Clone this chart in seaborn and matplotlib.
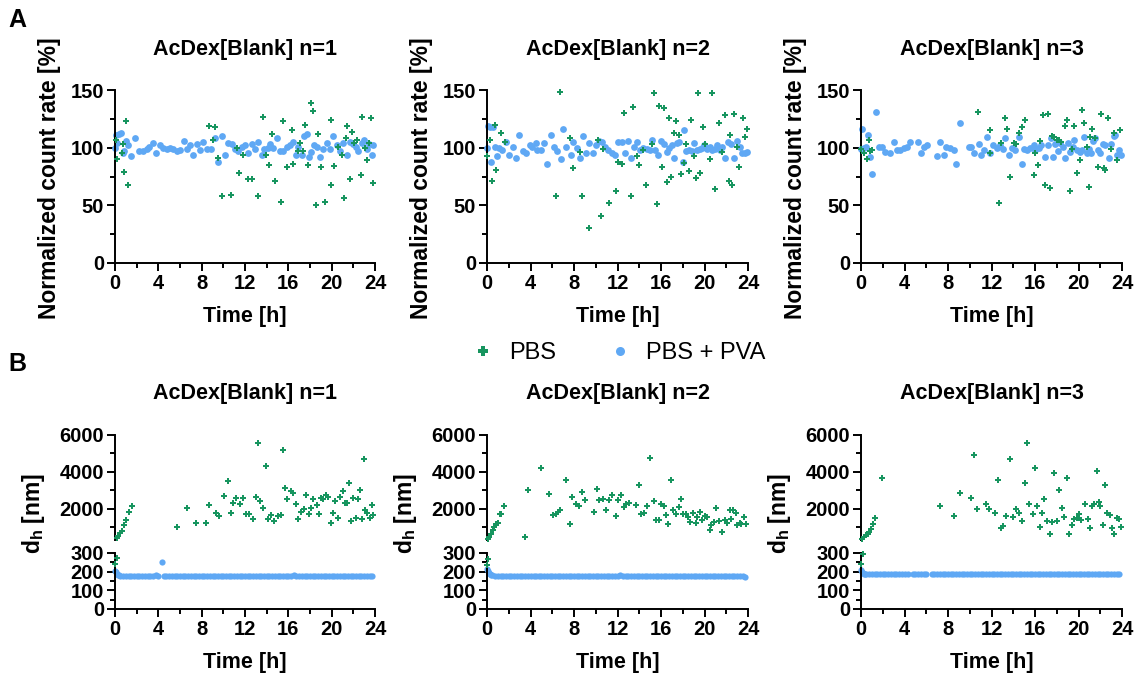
import numpy as np
import matplotlib
matplotlib.use("Agg")
import matplotlib.pyplot as plt
import seaborn as sns
from matplotlib.ticker import FixedLocator
from matplotlib.lines import Line2D

sns.set_theme(style="ticks")
plt.rcParams['font.family'] = ['Liberation Sans', 'DejaVu Sans']
plt.rcParams['font.weight'] = 'bold'
plt.rcParams['axes.labelweight'] = 'bold'
plt.rcParams['text.color'] = 'black'
plt.rcParams['axes.labelcolor'] = 'black'
plt.rcParams['xtick.color'] = 'black'
plt.rcParams['ytick.color'] = 'black'
plt.rcParams['mathtext.fontset'] = 'custom'
plt.rcParams['mathtext.rm'] = 'Liberation Sans:bold'
plt.rcParams['mathtext.bf'] = 'Liberation Sans:bold'

GREEN = '#17955f'
BLUE = '#5fa8f4'

TITLES = ['AcDex[Blank] n=1', 'AcDex[Blank] n=2', 'AcDex[Blank] n=3']
LEGEND_LABELS = ['PBS', 'PBS + PVA']
TIME_TICKS = [0, 4, 8, 12, 16, 20, 24]

# ---- Panel A: normalized count rate [%] ----
A1_PBS_T = [0.06, 0.15, 0.62, 0.71, 0.83, 1.02, 1.23, 8.71, 9.02, 9.23, 9.54, 9.85,
            10.71, 11.23, 11.48, 11.85, 12.31, 12.62, 13.17, 13.69, 13.94, 14.25, 14.46,
            14.8, 15.35, 15.54, 15.85, 16.31, 16.46, 16.86, 17.08, 17.32, 17.54, 17.85,
            18.09, 18.31, 18.52, 18.77, 18.98, 19.38, 19.94, 19.9, 20.25, 20.62, 20.92,
            21.14, 21.32, 21.45, 21.69, 21.85, 22.09, 22.37, 22.68, 22.83, 23.08, 23.29,
            23.48, 23.6, 23.78]
A1_PBS_V = [107, 90, 95, 103, 79, 123, 68, 119, 107, 118, 91, 58,
            59, 100, 78, 94, 73, 73, 58, 127, 94, 85, 112,
            71, 53, 123, 83, 115, 86, 97, 104, 97, 120, 85,
            139, 132, 50, 112, 83, 53, 124, 68, 84, 101, 94,
            56, 108, 119, 73, 114, 104, 107, 76, 127, 100, 89,
            104, 126, 69]
A1_PVA_T = [0.0, 0.1, 0.15, 0.37, 0.52, 0.71, 0.86, 1.02, 1.23, 1.48,
            1.85, 2.25, 2.62, 2.92, 3.17, 3.48, 3.78, 4.15, 4.46, 4.77,
            5.08, 5.38, 5.69, 6.0, 6.37, 6.62, 6.92, 7.23, 7.54, 7.85,
            8.15, 8.46, 8.83, 9.23, 9.54, 9.85, 10.15, 10.46, 10.77, 11.08,
            11.38, 11.69, 12.0, 12.31, 12.62, 12.92, 13.23, 13.54, 13.78, 14.09,
            14.31, 14.62, 14.92, 15.23, 15.54, 15.85, 16.15, 16.46, 16.71, 16.92,
            17.23, 17.48, 17.69, 17.94, 18.09, 18.4, 18.62, 18.92, 19.23, 19.54,
            19.85, 20.15, 20.46, 20.77, 21.08, 21.38, 21.69, 21.94, 22.25, 22.46,
            22.77, 22.98, 23.23, 23.48, 23.69, 23.85]
A1_PVA_V = [100, 111, 104, 112, 113, 95, 97, 106, 102, 93,
            108, 97, 97, 99, 101, 104, 95, 102, 100, 99,
            100, 99, 97, 98, 106, 99, 102, 94, 103, 98,
            105, 99, 99, 108, 88, 110, 94, 104, 103, 99,
            97, 101, 102, 95, 103, 99, 105, 94, 99, 100,
            103, 100, 108, 97, 97, 101, 102, 105, 94, 101,
            94, 110, 112, 92, 96, 102, 101, 92, 99, 104,
            99, 110, 102, 97, 104, 94, 105, 103, 101, 97,
            104, 107, 99, 103, 94, 102]

A2_PBS_T = [0.0, 0.31, 0.49, 0.71, 0.86, 1.32, 1.63, 6.39, 6.73, 7.62,
            7.87, 8.54, 8.73, 9.37, 10.17, 10.48, 10.69, 11.25, 11.86, 12.08,
            12.38, 12.63, 13.21, 13.46, 13.83, 14.01, 14.32, 14.63, 15.15, 15.37,
            15.61, 15.83, 16.07, 16.29, 16.53, 16.69, 16.93, 17.15, 17.39, 17.61,
            17.85, 18.07, 18.32, 18.53, 18.78, 18.99, 19.24, 19.39, 19.61, 19.85,
            20.07, 20.53, 20.68, 20.99, 21.3, 21.6, 21.91, 22.22, 22.37, 22.53,
            22.74, 22.99, 23.17, 23.51, 23.76, 23.91]
A2_PBS_V = [93, 107, 71, 120, 81, 113, 105, 58, 148, 108,
            82, 96, 58, 30, 107, 41, 99, 52, 62, 88,
            86, 130, 58, 135, 93, 85, 98, 68, 103, 147,
            51, 136, 83, 134, 70, 126, 75, 113, 123, 111,
            77, 87, 103, 80, 124, 93, 74, 147, 78, 118,
            103, 90, 147, 64, 121, 96, 128, 71, 111, 68,
            129, 101, 83, 126, 109, 116]
A2_PVA_T = [0.0, 0.09, 0.31, 0.4, 0.55, 0.77, 0.92, 1.11, 1.35, 1.72,
            2.03, 2.4, 2.7, 2.95, 3.32, 3.63, 3.93, 4.18, 4.46, 4.64,
            4.92, 5.26, 5.53, 5.84, 6.15, 6.45, 6.76, 7.01, 7.31, 7.68,
            7.93, 8.24, 8.54, 8.79, 9.1, 9.4, 9.71, 10.02, 10.26, 10.54,
            10.85, 11.16, 11.46, 11.77, 12.08, 12.38, 12.69, 13.0, 13.25, 13.55,
            13.83, 14.08, 14.38, 14.69, 15.0, 15.18, 15.46, 15.77, 16.01, 16.29,
            16.53, 16.78, 16.99, 17.21, 17.45, 17.7, 18.01, 18.13, 18.32, 18.53,
            18.84, 19.05, 19.3, 19.55, 19.76, 19.98, 20.22, 20.47, 20.68, 20.93,
            21.14, 21.39, 21.6, 21.91, 22.16, 22.46, 22.68, 22.99, 23.23, 23.45,
            23.69, 23.91]
A2_PVA_V = [100, 119, 118, 88, 118, 101, 93, 100, 98, 105,
            94, 101, 91, 111, 97, 95, 102, 101, 104, 98,
            98, 104, 86, 111, 101, 97, 90, 116, 101, 94,
            105, 100, 91, 110, 95, 104, 95, 102, 106, 105,
            101, 98, 95, 94, 105, 105, 95, 106, 91, 101,
            105, 98, 100, 99, 98, 107, 98, 94, 106, 103,
            96, 100, 102, 91, 104, 105, 88, 115, 97, 98,
            97, 104, 98, 99, 100, 102, 99, 101, 98, 99,
            102, 98, 101, 91, 105, 103, 91, 106, 101, 95,
            95, 96]

A3_PBS_T = [0.0, 0.25, 0.55, 0.71, 0.86, 1.01, 10.74, 11.84, 11.9, 12.67,
            12.91, 13.22, 13.44, 13.74, 14.05, 14.29, 14.51, 14.82, 15.12, 15.89,
            16.04, 16.26, 16.5, 16.69, 16.96, 17.18, 17.36, 17.58, 17.73, 17.98,
            18.19, 18.4, 18.74, 18.96, 19.2, 19.42, 19.63, 19.88, 20.12, 20.28,
            20.49, 20.74, 20.95, 21.1, 21.26, 21.56, 21.81, 22.09, 22.33, 22.42,
            22.7, 23.01, 23.25, 23.56, 23.8]
A3_PBS_V = [99, 95, 90, 107, 97, 98, 131, 115, 95, 52,
            104, 126, 116, 75, 104, 103, 113, 118, 124, 76,
            95, 85, 106, 128, 68, 129, 65, 110, 109, 107,
            107, 105, 119, 124, 62, 99, 119, 78, 89, 133,
            121, 101, 66, 109, 116, 108, 83, 129, 82, 81,
            126, 99, 113, 89, 115]
A3_PVA_T = [0.0, 0.09, 0.25, 0.49, 0.61, 0.86, 1.01, 1.35, 1.63, 1.93,
            2.24, 2.64, 3.01, 3.31, 3.62, 3.93, 4.23, 4.48, 5.21, 5.52,
            5.83, 6.07, 6.99, 7.3, 7.61, 7.85, 8.22, 8.53, 8.77, 9.14,
            9.91, 10.15, 10.43, 10.83, 11.04, 11.35, 11.6, 11.9, 12.15, 12.52,
            12.82, 13.07, 13.28, 13.59, 13.9, 14.2, 14.51, 14.82, 15.03, 15.28,
            15.58, 15.89, 16.04, 16.35, 16.56, 16.9, 17.21, 17.48, 17.67, 17.88,
            18.1, 18.34, 18.59, 18.8, 19.05, 19.26, 19.51, 19.63, 19.88, 20.12,
            20.34, 20.49, 20.74, 20.95, 21.17, 21.35, 21.56, 21.78, 22.02, 22.27,
            22.48, 22.79, 23.01, 23.25, 23.4, 23.56, 23.71, 23.93]
A3_PVA_V = [99, 116, 100, 101, 111, 92, 77, 131, 101, 101,
            96, 95, 105, 98, 98, 100, 101, 105, 105, 95,
            101, 102, 93, 105, 94, 101, 100, 98, 86, 121,
            101, 101, 95, 103, 94, 98, 109, 95, 102, 100,
            102, 99, 108, 94, 100, 98, 109, 86, 99, 98,
            100, 102, 98, 100, 102, 92, 102, 108, 92, 103,
            97, 104, 101, 91, 104, 96, 101, 107, 98, 96,
            98, 109, 95, 99, 95, 106, 108, 98, 95, 103,
            102, 91, 103, 110, 111, 94, 98, 94]

# ---- Panel B: hydrodynamic diameter d_h [nm] ----
B1_PBS_T = [0.0, 0.15, 0.15, 0.3, 0.45, 0.6, 0.85, 1.05, 1.3, 1.55,
            5.7, 6.6, 7.5, 8.4, 8.7, 9.3, 9.6, 10.1, 10.4, 10.7,
            10.9, 11.2, 11.5, 11.8, 12.1, 12.4, 12.7, 13.0, 13.2, 13.4,
            13.7, 13.9, 14.1, 14.4, 14.7, 15.0, 15.3, 15.5, 15.7, 15.9,
            16.2, 16.4, 16.7, 16.9, 17.2, 17.4, 17.6, 17.9, 18.1, 18.3,
            18.6, 18.8, 19.0, 19.2, 19.5, 19.7, 19.9, 20.1, 20.3, 20.6,
            20.8, 21.0, 21.2, 21.4, 21.6, 21.8, 22.0, 22.2, 22.4, 22.6,
            22.8, 22.95, 23.1, 23.3, 23.5, 23.7, 23.85]
B1_PBS_V = [240, 272, 390, 500, 670, 800, 1120, 1370, 1820, 2140,
            1030, 2050, 1250, 1250, 2180, 1750, 1600, 2680, 3490, 1780,
            2320, 2560, 2230, 2590, 1700, 1700, 1430, 2650, 5590, 2410,
            2050, 4330, 1430, 1660, 1340, 1610, 1660, 5200, 3130, 2500,
            2950, 2860, 2230, 1430, 1820, 2000, 2720, 1730, 2050, 2500,
            2180, 1700, 2590, 2540, 2770, 2650, 1250, 1780, 2400, 1500,
            2650, 2950, 2300, 2290, 3400, 1340, 2590, 1500, 2540, 3040,
            1460, 4690, 1930, 1780, 1520, 2180, 1650]
B2_PBS_T = [0.0, 0.1, 0.06, 0.22, 0.37, 0.52, 0.68, 0.83, 1.04, 1.17,
            1.32, 1.6, 3.53, 3.74, 4.97, 5.74, 6.05, 6.3, 6.5, 6.72,
            7.24, 7.6, 7.83, 8.2, 8.5, 8.72, 8.99, 9.82, 10.1, 10.34,
            10.65, 10.9, 11.2, 11.51, 11.82, 12.03, 12.34, 12.58, 12.8, 13.1,
            13.66, 13.97, 14.18, 14.4, 14.7, 15.0, 15.32, 15.5, 15.8, 16.02,
            16.24, 16.48, 16.64, 16.94, 17.1, 17.34, 17.65, 17.8, 18.02, 18.26,
            18.48, 18.69, 18.94, 19.18, 19.34, 19.55, 19.77, 20.01, 20.23, 20.47,
            20.63, 20.84, 21.09, 21.33, 21.64, 21.85, 22.1, 22.31, 22.47, 22.62,
            22.87, 23.02, 23.24, 23.39, 23.63, 23.85]
B2_PBS_V = [237, 268, 330, 470, 650, 830, 1010, 1190, 1230, 1730,
            1730, 2130, 470, 2990, 4210, 2810, 1640, 1730, 1820, 1950,
            3570, 1150, 2630, 2270, 2130, 2900, 2490, 1820, 3080, 2450,
            2540, 1910, 2450, 2720, 1590, 2490, 2720, 2090, 2230, 2310,
            2180, 3260, 1730, 1770, 2130, 4750, 2410, 1410, 1410, 2230,
            2130, 1640, 1150, 3570, 1950, 1690, 2090, 2540, 1690, 1730,
            1550, 1280, 1770, 1230, 1550, 1820, 1370, 1590, 1550, 830,
            1100, 1280, 2050, 1330, 740, 1410, 1230, 1950, 1460, 1910,
            1770, 1100, 1230, 1190, 1550, 1150]
B3_PBS_T = [0.0, 0.18, 0.09, 0.3, 0.49, 0.61, 0.77, 0.92, 1.1, 1.32,
            1.93, 7.3, 8.53, 9.08, 10.12, 10.43, 10.67, 11.53, 11.81, 12.36,
            12.64, 12.88, 13.07, 13.37, 13.68, 13.99, 14.29, 14.51, 14.82, 15.06,
            15.28, 15.49, 15.8, 15.98, 16.2, 16.44, 16.66, 16.87, 17.12, 17.36,
            17.58, 17.79, 18.04, 18.25, 18.5, 18.71, 18.96, 19.17, 19.42, 19.63,
            19.82, 20.03, 20.25, 20.64, 20.86, 21.04, 21.26, 21.41, 21.66, 21.87,
            22.02, 22.27, 22.45, 22.64, 22.88, 23.1, 23.31, 23.5, 23.71, 23.87]
B3_PBS_V = [241, 296, 330, 470, 560, 610, 740, 920, 1190, 1510,
            3660, 2130, 1590, 2850, 2590, 4930, 2000, 2230, 1960, 1770,
            3570, 970, 1050, 1590, 4700, 1550, 2000, 1770, 1320, 3390,
            5550, 2230, 1730, 4210, 2130, 1010, 1770, 2540, 1330, 650,
            1280, 3930, 1330, 3030, 2050, 1550, 3660, 610, 1100, 1460,
            1510, 1690, 1370, 2230, 1420, 960, 2130, 2230, 4070, 2360,
            2130, 1140, 3260, 1770, 1680, 960, 650, 1510, 1420, 1010]

B_PVA_T = [0.0, 0.1, 0.2, 0.3, 0.4, 0.5, 0.75, 1.0, 1.25, 1.5,
           1.75, 2.0, 2.25, 2.5, 2.75, 3.0, 3.25, 3.5, 3.75, 4.0,
           4.3, 4.5, 4.75, 5.0, 5.25, 5.5, 5.75, 6.0, 6.25, 6.5,
           6.75, 7.0, 7.25, 7.5, 7.75, 8.0, 8.25, 8.5, 8.75, 9.0,
           9.25, 9.5, 9.75, 10.0, 10.25, 10.5, 10.75, 11.0, 11.25, 11.5,
           11.75, 12.0, 12.25, 12.5, 12.75, 13.0, 13.25, 13.5, 13.75, 14.0,
           14.25, 14.5, 14.75, 15.0, 15.25, 15.5, 15.75, 16.0, 16.25, 16.5,
           16.75, 17.0, 17.25, 17.5, 17.75, 18.0, 18.25, 18.5, 18.75, 19.0,
           19.25, 19.5, 19.75, 20.0, 20.25, 20.5, 20.75, 21.0, 21.25, 21.5,
           21.75, 22.0, 22.25, 22.5, 22.75, 23.0, 23.25, 23.5, 23.75]
B1_PVA_V = [201, 196, 190, 184, 180, 178, 176, 177, 178, 176,
            177, 179, 177, 176, 178, 177, 178, 179, 180, 177,
            250, 176, 177, 178, 176, 177, 178, 176, 177, 178,
            179, 177, 176, 177, 178, 176, 177, 179, 178, 177,
            176, 178, 177, 176, 177, 178, 177, 179, 178, 176,
            177, 178, 176, 177, 178, 177, 176, 178, 179, 177,
            176, 177, 178, 177, 179, 178, 176, 177, 178, 180,
            177, 176, 178, 177, 176, 178, 177, 179, 177, 176,
            177, 178, 176, 177, 178, 177, 176, 177, 178, 177,
            176, 178, 177, 176, 177, 178, 177, 176, 177]
B2_PVA_V = [216, 205, 195, 187, 182, 180, 178, 179, 177, 178,
            179, 177, 178, 176, 178, 179, 177, 178, 177, 176,
            178, 177, 179, 178, 176, 177, 178, 177, 179, 178,
            177, 176, 178, 177, 179, 178, 177, 176, 178, 177,
            178, 177, 176, 178, 177, 179, 178, 177, 176, 178,
            177, 178, 180, 177, 176, 178, 177, 176, 178, 177,
            176, 177, 178, 177, 176, 178, 177, 176, 177, 178,
            177, 176, 175, 177, 178, 176, 177, 178, 176, 177,
            178, 176, 177, 176, 178, 177, 176, 177, 178, 176,
            177, 176, 178, 177, 176, 177, 175, 177, 174]
B3_PVA_V = [208, 200, 193, 188, 186, 185, 186, 187, 186, 187,
            188, 186, 187, 186, 188, 187, 186, 187, 188, 187,
            186, None, 187, 188, 186, 187, 188, 187, None, 188,
            187, 189, 188, 187, 188, 189, 188, 187, 188, 189,
            187, 188, 187, 186, 187, 188, 187, 186, 188, 187,
            186, 187, 188, 187, 186, 187, 188, 187, 186, 188,
            187, 188, 187, 186, 187, 188, 189, 187, 188, 187,
            188, 187, 189, 190, 188, 187, 188, 187, 186, 187,
            188, 187, 186, 187, 188, 187, 189, 188, 187, 186,
            187, 188, 187, 186, 187, 188, 187, 186, 185]

PANEL_A = [(A1_PBS_T, A1_PBS_V, A1_PVA_T, A1_PVA_V),
           (A2_PBS_T, A2_PBS_V, A2_PVA_T, A2_PVA_V),
           (A3_PBS_T, A3_PBS_V, A3_PVA_T, A3_PVA_V)]
PANEL_B = [(B1_PBS_T, B1_PBS_V, B1_PVA_V),
           (B2_PBS_T, B2_PBS_V, B2_PVA_V),
           (B3_PBS_T, B3_PBS_V, B3_PVA_V)]

W, H = 1141, 674
COL_X = [(115, 375), (487, 748), (861, 1122)]
LW = 1.4


def box(l, t, r, b):
    return [l / W, 1 - b / H, (r - l) / W, (b - t) / H]


def style(ax, show_x=True):
    sns.despine(ax=ax)
    for side in ['left', 'bottom']:
        ax.spines[side].set_linewidth(LW)
        ax.spines[side].set_color('black')
    ax.tick_params(which='major', length=6, width=LW, color='black', labelsize=14.5, pad=2)
    ax.tick_params(which='minor', length=3.5, width=LW, color='black')
    ax.set_xlim(0, 24)
    if show_x:
        ax.xaxis.set_major_locator(FixedLocator(TIME_TICKS))
        ax.xaxis.set_minor_locator(FixedLocator([2, 6, 10, 14, 18, 22]))
    else:
        ax.spines['bottom'].set_visible(False)
        ax.set_xticks([])
        ax.xaxis.set_minor_locator(FixedLocator([]))
    ax.set_xlabel('')
    ax.set_ylabel('')


def pbs(ax, t, v):
    sns.scatterplot(x=t, y=v, ax=ax, color=GREEN, marker='P', s=20,
                    linewidth=0, clip_on=False, legend=False, zorder=3)


def pva(ax, t, v, s):
    sns.scatterplot(x=t, y=v, ax=ax, color=BLUE, marker='o', s=s,
                    linewidth=0, clip_on=False, legend=False, zorder=2)


fig = plt.figure(figsize=(W / 100, H / 100), dpi=100)

# Panel A
for i, (pt, pv, qt, qv) in enumerate(PANEL_A):
    l, r = COL_X[i]
    ax = fig.add_axes(box(l, 90, r, 263))
    pva(ax, qt, qv, 24)
    pbs(ax, pt, pv)
    style(ax)
    ax.set_ylim(0, 150)
    ax.yaxis.set_major_locator(FixedLocator([0, 50, 100, 150]))
    ax.yaxis.set_minor_locator(FixedLocator([25, 75, 125]))
    ax.set_xlabel('Time [h]', fontsize=15.5, fontweight='bold')
    ax.xaxis.set_label_coords(0.5, -0.25)
    ax.xaxis.label.set_va('top')
    fig.text((l - 54) / W, 1 - 178 / H, 'Normalized count rate [%]', rotation=90,
             ha='right', va='center', fontsize=16.5, fontweight='bold')
    fig.text((l + r) / 2 / W, 1 - 50 / H, TITLES[i], ha='center', va='center',
             fontsize=15.5, fontweight='bold')

# Panel B (broken y axis)
for i, (pt, pv, qv) in enumerate(PANEL_B):
    l, r = COL_X[i]
    pt = np.asarray(pt, dtype=float)
    pv = np.asarray(pv, dtype=float)
    qt = np.asarray(B_PVA_T, dtype=float)
    qv = np.asarray(qv, dtype=float)
    hi = pv >= 300

    ax_top = fig.add_axes(box(l, 435, r, 540))
    pbs(ax_top, pt[hi], pv[hi])
    style(ax_top, show_x=False)
    ax_top.set_ylim(300, 6000)
    ax_top.yaxis.set_major_locator(FixedLocator([2000, 4000, 6000]))
    ax_top.yaxis.set_minor_locator(FixedLocator([1000, 3000, 5000]))

    ax_bot = fig.add_axes(box(l, 553, r, 609))
    ok = ~np.isnan(qv)
    pva(ax_bot, qt[ok], qv[ok], 20)
    pbs(ax_bot, pt[~hi], pv[~hi])
    style(ax_bot)
    ax_bot.set_ylim(0, 300)
    ax_bot.yaxis.set_major_locator(FixedLocator([0, 100, 200, 300]))
    ax_bot.yaxis.set_minor_locator(FixedLocator([50, 150, 250]))
    ax_bot.set_xlabel('Time [h]', fontsize=15.5, fontweight='bold')
    ax_bot.xaxis.set_label_coords(0.5, -0.76)
    ax_bot.xaxis.label.set_va('top')

    fig.text((l - 68) / W, 1 - 513 / H, r'd$_\mathrm{h}$ [nm]', rotation=90,
             ha='right', va='center', fontsize=16.5, fontweight='bold')
    fig.text((l + r) / 2 / W, 1 - 394 / H, TITLES[i], ha='center', va='center',
             fontsize=15.5, fontweight='bold')

# Panel letters
fig.text(8 / W, 1 - 20 / H, 'A', ha='left', va='center', fontsize=18, fontweight='bold')
fig.text(8 / W, 1 - 364 / H, 'B', ha='left', va='center', fontsize=18, fontweight='bold')

# Shared legend
handles = [Line2D([], [], linestyle='none', marker='P', markersize=6.5,
                  color=GREEN, markeredgewidth=0),
           Line2D([], [], linestyle='none', marker='o', markersize=6.5,
                  color=BLUE, markeredgewidth=0)]
fig.legend(handles, LEGEND_LABELS, loc='center', bbox_to_anchor=(618 / W, 1 - 353 / H),
           ncol=2, frameon=False, prop={'weight': 'normal', 'size': 17},
           handletextpad=0.6, columnspacing=2.2, handlelength=1.0)

fig.savefig('out.png', dpi=100)
